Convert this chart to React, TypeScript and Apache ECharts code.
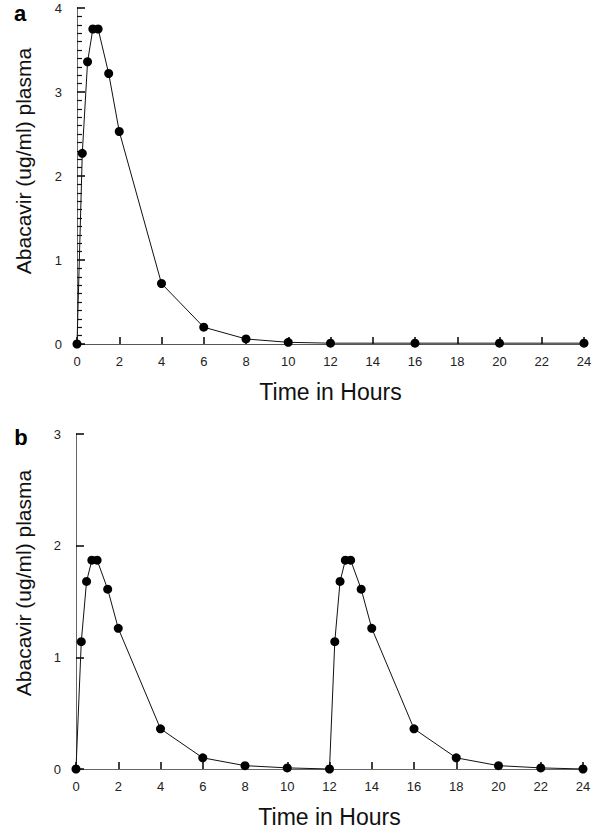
import React, { useEffect, useRef } from "react";
import * as echarts from "echarts";

const hoursA = [0, 0.25, 0.5, 0.75, 1, 1.5, 2, 4, 6, 8, 10, 12, 16, 20, 24];
const plasmaA = [0, 2.27, 3.36, 3.75, 3.75, 3.22, 2.53, 0.72, 0.2, 0.06, 0.02, 0.01, 0.01, 0.01, 0.01];

const hoursB = [0, 0.25, 0.5, 0.75, 1, 1.5, 2, 4, 6, 8, 10, 12, 12.25, 12.5, 12.75, 13, 13.5, 14, 16, 18, 20, 22, 24];
const plasmaB = [0, 1.14, 1.68, 1.87, 1.87, 1.61, 1.26, 0.36, 0.1, 0.03, 0.01, 0, 1.14, 1.68, 1.87, 1.87, 1.61, 1.26, 0.36, 0.1, 0.03, 0.01, 0];

const xTicks = [0, 2, 4, 6, 8, 10, 12, 14, 16, 18, 20, 22, 24];
const yTicksA = [0, 1, 2, 3, 4];
const yTicksB = [0, 1, 2, 3];

const yTitle = "Abacavir (ug/ml) plasma";
const xTitle = "Time in Hours";

const FONT = "Liberation Sans, Arial, Helvetica, sans-serif";

export default function App() {
  const ref = useRef<HTMLDivElement>(null);
  useEffect(() => {
    if (!ref.current) return;
    const chart = echarts.init(ref.current, null, { renderer: "svg" });
    const xMain = (gridIndex: number) => ({
      type: "value",
      gridIndex,
      min: xTicks[0],
      max: xTicks[xTicks.length - 1],
      interval: xTicks[1] - xTicks[0],
      name: xTitle,
      nameLocation: "middle",
      nameGap: 36,
      nameTextStyle: { fontFamily: FONT, fontSize: 23, color: "#111" },
      axisLine: { show: true, lineStyle: { color: "#222", width: 1 } },
      axisTick: { show: true, inside: true, length: 7, lineStyle: { color: "#000", width: 1.5 } },
      axisLabel: { fontFamily: FONT, fontSize: 13, color: "#222", margin: 11 },
      splitLine: { show: false },
    });
    const xFrame = (gridIndex: number, color: string) => ({
      type: "value",
      gridIndex,
      position: "top",
      min: xTicks[0],
      max: xTicks[xTicks.length - 1],
      axisLine: { show: true, lineStyle: { color, width: 1 } },
      axisTick: { show: false },
      axisLabel: { show: false },
      splitLine: { show: false },
    });
    const yMain = (gridIndex: number, ticks: number[], minor: boolean) => ({
      type: "value",
      gridIndex,
      min: ticks[0],
      max: ticks[ticks.length - 1],
      interval: ticks[1] - ticks[0],
      axisLine: { show: true, lineStyle: { color: "#222", width: 1 } },
      axisTick: { show: true, inside: true, length: 8, lineStyle: { color: "#000", width: 1.5 } },
      minorTick: { show: minor, splitNumber: 10, length: 5, lineStyle: { color: "#111", width: 1.2 } },
      axisLabel: { fontFamily: FONT, fontSize: 13, color: "#222", margin: 15 },
      splitLine: { show: false },
      minorSplitLine: { show: false },
    });
    const yFrame = (gridIndex: number, ticks: number[], color: string) => ({
      type: "value",
      gridIndex,
      position: "right",
      min: ticks[0],
      max: ticks[ticks.length - 1],
      axisLine: { show: true, lineStyle: { color, width: 1 } },
      axisTick: { show: false },
      axisLabel: { show: false },
      splitLine: { show: false },
    });
    const seriesBase = {
      type: "line",
      symbol: "circle",
      symbolSize: 9,
      clip: false,
      lineStyle: { color: "#111", width: 1 },
      itemStyle: { color: "#000", borderWidth: 0 },
    };
    chart.setOption({
      animation: false,
      grid: [
        { left: 77, right: 16, top: 8, height: 336 },
        { left: 76, right: 17, top: 434, height: 335 },
      ],
      xAxis: [xMain(0), xMain(1), xFrame(0, "#555"), xFrame(1, "#666")],
      yAxis: [yMain(0, yTicksA, true), yMain(1, yTicksB, false), yFrame(0, yTicksA, "#666"), yFrame(1, yTicksB, "#666")],
      series: [
        { ...seriesBase, xAxisIndex: 0, yAxisIndex: 0, data: hoursA.map((h, i) => [h, plasmaA[i]]) },
        { ...seriesBase, xAxisIndex: 1, yAxisIndex: 1, data: hoursB.map((h, i) => [h, plasmaB[i]]) },
      ],
      graphic: [
        { type: "text", x: 20, y: 13, style: { text: "a", font: `bold 22px ${FONT}`, fill: "#000", align: "center", verticalAlign: "middle" } },
        { type: "text", x: 21, y: 437, style: { text: "b", font: `bold 22px ${FONT}`, fill: "#000", align: "center", verticalAlign: "middle" } },
        { type: "text", x: 23, y: 161, rotation: Math.PI / 2, style: { text: yTitle, font: `21px ${FONT}`, fill: "#111", align: "center", verticalAlign: "middle" } },
        { type: "text", x: 23, y: 583, rotation: Math.PI / 2, style: { text: yTitle, font: `21px ${FONT}`, fill: "#111", align: "center", verticalAlign: "middle" } },
      ],
    });
    return () => chart.dispose();
  }, []);
  return <div ref={ref} style={{ width: 600, height: 836, position: "absolute", left: 0, top: 0 }} />;
}
